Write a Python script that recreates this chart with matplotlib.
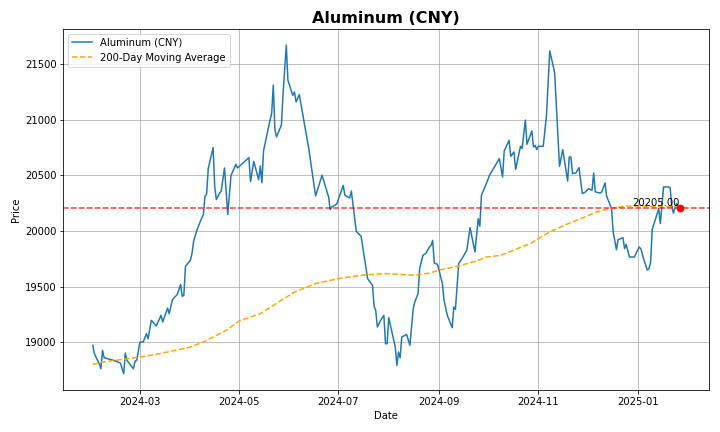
import matplotlib
matplotlib.use("Agg")
import matplotlib.pyplot as plt
import matplotlib.dates as mdates
import pandas as pd

price_dates = [
    "2024-02-01", "2024-02-02", "2024-02-05", "2024-02-06", "2024-02-07", "2024-02-08",
    "2024-02-14", "2024-02-18", "2024-02-20", "2024-02-21", "2024-02-22", "2024-02-24",
    "2024-02-26", "2024-02-27", "2024-02-28", "2024-03-01", "2024-03-03", "2024-03-05",
    "2024-03-06", "2024-03-08", "2024-03-11", "2024-03-14", "2024-03-15", "2024-03-18",
    "2024-03-19", "2024-03-21", "2024-03-24", "2024-03-26", "2024-03-27", "2024-03-28",
    "2024-03-29", "2024-04-01", "2024-04-02", "2024-04-03", "2024-04-05", "2024-04-07",
    "2024-04-09", "2024-04-10", "2024-04-11", "2024-04-12", "2024-04-15", "2024-04-16",
    "2024-04-17", "2024-04-19", "2024-04-20", "2024-04-22", "2024-04-24", "2024-04-26",
    "2024-04-29", "2024-04-30", "2024-05-07", "2024-05-08", "2024-05-10", "2024-05-13",
    "2024-05-14", "2024-05-15", "2024-05-16", "2024-05-20", "2024-05-21", "2024-05-22",
    "2024-05-23", "2024-05-24", "2024-05-27", "2024-05-28", "2024-05-30", "2024-05-31",
    "2024-06-03", "2024-06-04", "2024-06-05", "2024-06-07", "2024-06-13", "2024-06-14",
    "2024-06-17", "2024-06-21", "2024-06-25", "2024-06-26", "2024-06-27", "2024-06-30",
    "2024-07-04", "2024-07-05", "2024-07-08", "2024-07-09", "2024-07-12", "2024-07-15",
    "2024-07-19", "2024-07-22", "2024-07-23", "2024-07-24", "2024-07-25", "2024-07-27",
    "2024-07-29", "2024-07-30", "2024-07-31", "2024-08-01", "2024-08-05", "2024-08-06",
    "2024-08-07", "2024-08-08", "2024-08-09", "2024-08-12", "2024-08-14", "2024-08-16",
    "2024-08-17", "2024-08-19", "2024-08-20", "2024-08-22", "2024-08-24", "2024-08-26",
    "2024-08-27", "2024-08-28", "2024-08-29", "2024-08-31", "2024-09-03", "2024-09-04",
    "2024-09-06", "2024-09-09", "2024-09-10", "2024-09-11", "2024-09-13", "2024-09-15",
    "2024-09-18", "2024-09-20", "2024-09-23", "2024-09-25", "2024-09-26", "2024-09-27",
    "2024-09-30", "2024-10-02", "2024-10-08", "2024-10-10", "2024-10-11", "2024-10-14",
    "2024-10-15", "2024-10-17", "2024-10-18", "2024-10-21", "2024-10-22", "2024-10-24",
    "2024-10-25", "2024-10-28", "2024-10-29", "2024-10-30", "2024-10-31", "2024-11-01",
    "2024-11-04", "2024-11-06", "2024-11-08", "2024-11-11", "2024-11-14", "2024-11-16",
    "2024-11-19", "2024-11-20", "2024-11-21", "2024-11-22", "2024-11-24", "2024-11-26",
    "2024-11-28", "2024-11-30", "2024-12-02", "2024-12-04", "2024-12-05", "2024-12-06",
    "2024-12-09", "2024-12-10", "2024-12-12", "2024-12-13", "2024-12-16", "2024-12-17",
    "2024-12-19", "2024-12-20", "2024-12-23", "2024-12-24", "2024-12-25", "2024-12-27",
    "2024-12-30", "2025-01-02", "2025-01-03", "2025-01-05", "2025-01-07", "2025-01-08",
    "2025-01-09", "2025-01-10", "2025-01-14", "2025-01-15", "2025-01-17", "2025-01-20",
    "2025-01-21", "2025-01-22", "2025-01-23", "2025-01-25", "2025-01-26", "2025-01-27",
]

price_values = [
    18973, 18898, 18808, 18763, 18928, 18862,
    18838, 18814, 18718, 18904, 18838, 18802,
    18763, 18832, 18838, 19003, 19003, 19078,
    19033, 19198, 19147, 19243, 19183, 19308,
    19258, 19384, 19432, 19522, 19414, 19423,
    19684, 19738, 19797, 19908, 20007, 20082,
    20148, 20313, 20331, 20562, 20750, 20397,
    20283, 20342, 20360, 20567, 20150, 20500,
    20600, 20567, 20660, 20444, 20627, 20462,
    20585, 20435, 20720, 20998, 21058, 21312,
    20907, 20847, 20953, 21232, 21670, 21355,
    21220, 21250, 21160, 21226, 20726, 20621,
    20316, 20502, 20307, 20193, 20217, 20242,
    20411, 20322, 20298, 20360, 19998, 19953,
    19573, 19513, 19324, 19288, 19138, 19198,
    19243, 18988, 18988, 19222, 18958, 18793,
    18913, 18862, 19048, 19072, 18973, 19297,
    19363, 19438, 19663, 19782, 19803, 19857,
    19872, 19917, 19713, 19701, 19528, 19378,
    19243, 19132, 19317, 19297, 19708, 19752,
    19827, 20031, 19812, 20112, 20043, 20322,
    20427, 20502, 20651, 20486, 20720, 20816,
    20672, 20711, 20553, 20762, 20741, 20998,
    20780, 20900, 20756, 20771, 20732, 20762,
    20762, 21041, 21619, 21425, 20582, 20732,
    20450, 20666, 20666, 20516, 20522, 20570,
    20337, 20352, 20382, 20367, 20522, 20352,
    20342, 20352, 20433, 20313, 20202, 19992,
    19833, 19923, 19941, 19842, 19881, 19767,
    19767, 19857, 19842, 19737, 19650, 19660,
    19720, 20013, 20202, 20067, 20397, 20397,
    20391, 20232, 20163, 20247, 20217, 20205,
]

ma_dates = [
    "2024-02-01", "2024-02-07", "2024-03-01", "2024-03-13", "2024-04-01", "2024-04-09",
    "2024-04-23", "2024-05-01", "2024-05-14", "2024-06-04", "2024-06-17", "2024-07-01",
    "2024-07-15", "2024-07-30", "2024-08-17", "2024-08-26", "2024-09-02", "2024-09-12",
    "2024-09-24", "2024-09-30", "2024-10-09", "2024-10-19", "2024-10-27", "2024-11-01",
    "2024-11-08", "2024-11-17", "2024-11-27", "2024-12-07", "2024-12-15", "2024-12-24",
    "2024-12-30", "2025-01-27",
]

ma_values = [
    18802, 18823, 18868, 18898, 18958, 19003,
    19108, 19192, 19258, 19452, 19528, 19573,
    19603, 19618, 19603, 19623, 19653, 19683,
    19731, 19767, 19782, 19842, 19887, 19932,
    19992, 20052, 20112, 20172, 20202, 20223,
    20226, 20215,
]

title = "Aluminum (CNY)"
price_label = "Aluminum (CNY)"
ma_label = "200-Day Moving Average"

pd_dates = pd.to_datetime(price_dates)
ma_pd_dates = pd.to_datetime(ma_dates)
last_date = pd_dates[-1]
last_price = price_values[-1]

fig, ax = plt.subplots(figsize=(10, 6), dpi=72)
ax.plot(pd_dates, price_values, color="#1f77b4", linewidth=1.5, label=price_label)
ax.plot(ma_pd_dates, ma_values, color="orange", linestyle="--", linewidth=1.5, label=ma_label)
ax.axhline(last_price, color="red", linestyle="--", linewidth=1.5, alpha=0.8)
ax.scatter([last_date], [last_price], color="red", s=45, zorder=5)
ax.text(last_date, last_price, f"{last_price:.2f}", ha="right", va="bottom", fontsize=10)

ax.set_title(title, fontsize=16, fontweight="bold")
ax.set_xlabel("Date")
ax.set_ylabel("Price")
ax.xaxis.set_major_locator(mdates.MonthLocator(bymonth=[1, 3, 5, 7, 9, 11]))
ax.xaxis.set_major_formatter(mdates.DateFormatter("%Y-%m"))
ax.grid(True)
ax.legend(loc="upper left")
fig.tight_layout()
fig.savefig("out.png", dpi=72)
